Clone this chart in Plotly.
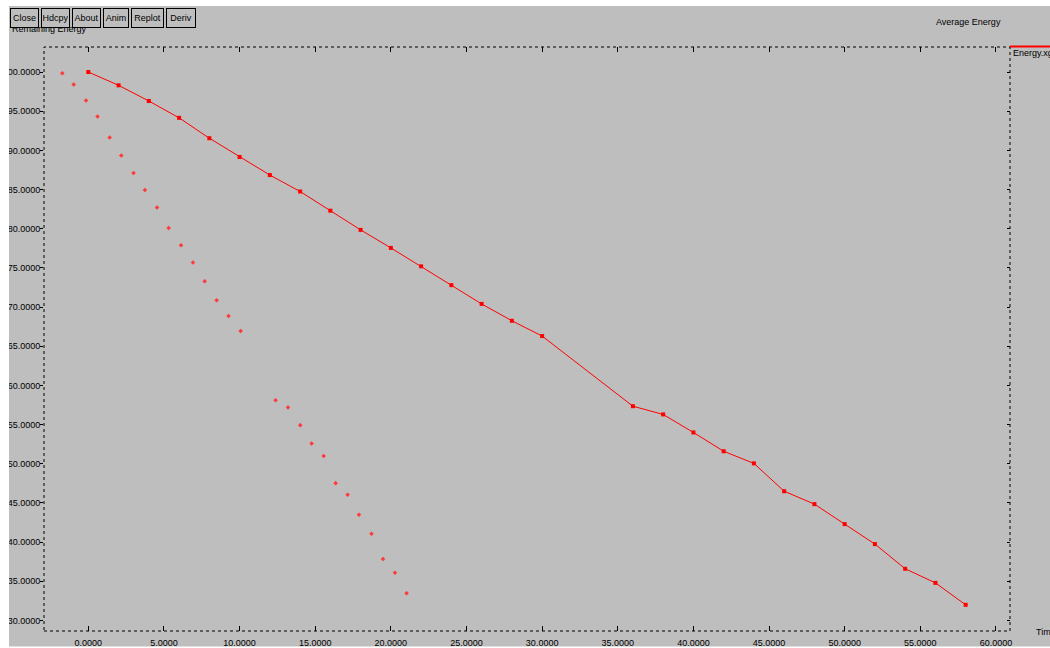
import plotly.graph_objects as go

# ---- data ----
line_time = [0, 2, 4, 6, 8, 10, 12, 14, 16, 18, 20, 22, 24, 26, 28, 30,
             36, 38, 40, 42, 44, 46, 48, 50, 52, 54, 56, 58]
line_energy = [100.0, 98.3, 96.3, 94.15, 91.55, 89.15, 86.85, 84.75, 82.3, 79.85,
               77.55, 75.2, 72.8, 70.4, 68.25, 66.3, 57.35, 56.3, 54.0, 51.6,
               50.05, 46.5, 44.85, 42.3, 39.75, 36.6, 34.8, 32.0]

dot_time = [-1.72, -0.97, -0.15, 0.61, 1.41, 2.18, 2.99, 3.74, 4.54, 5.31,
            6.13, 6.92, 7.69, 8.48, 9.27, 10.07, 12.38, 13.2, 14.01, 14.76,
            15.56, 16.35, 17.14, 17.89, 18.72, 19.48, 20.27, 21.04]
dot_energy = [99.85, 98.41, 96.37, 94.33, 91.65, 89.35, 87.1, 84.93, 82.7, 80.1,
              77.88, 75.7, 73.3, 70.86, 68.86, 66.95, 58.12, 57.18, 54.93, 52.6,
              51.0, 47.53, 46.04, 43.49, 41.07, 37.84, 36.1, 33.47]

x_ticks = [0, 5, 10, 15, 20, 25, 30, 35, 40, 45, 50, 55, 60]
y_ticks = [30, 35, 40, 45, 50, 55, 60, 65, 70, 75, 80, 85, 90, 95, 100]

buttons = ["Close", "Hdcpy", "About", "Anim", "Replot", "Deriv"]
title_text = "Average Energy"
y_label = "Remaining Energy"
x_label = "Time"
legend_name = "Energy.xg"

# ---- layout geometry (pixels) ----
W, H = 1050, 648
L, R, T, B = 44, 1010, 47, 631
BG = "#bebebe"
FONT = "Liberation Sans, Arial"
FS = 9


def px(x):
    return (x - L) / (R - L)


def py(y):
    return (B - y) / (B - T)


fig = go.Figure()
fig.add_trace(go.Scatter(x=line_time, y=line_energy, mode="lines+markers",
                         line=dict(color="#ff0000", width=1),
                         marker=dict(symbol="square", size=4, color="#ff0000"),
                         showlegend=False, hoverinfo="skip"))
fig.add_trace(go.Scatter(x=dot_time, y=dot_energy, mode="markers",
                         marker=dict(symbol="diamond", size=3.5, color="#ff3a3a"),
                         showlegend=False, hoverinfo="skip"))
fig.add_trace(go.Scatter(x=[None], y=[None], yaxis="y2", showlegend=False,
                         hoverinfo="skip"))

xr = [-2.93, 60.93]
yr = [28.66, 103.19]

fig.update_layout(
    width=W, height=H, autosize=False,
    margin=dict(l=L, r=W - R, t=T, b=H - B, pad=0, autoexpand=False),
    paper_bgcolor=BG, plot_bgcolor=BG,
    font=dict(family=FONT, size=FS, color="#000000"),
    xaxis=dict(range=xr, tickvals=x_ticks, tickformat=".4f", ticks="inside",
               ticklen=5, tickcolor="#000000", tickwidth=1, mirror="ticks",
               showgrid=False, zeroline=False, showline=False,
               ticklabelstandoff=5,
               tickfont=dict(family=FONT, size=FS, color="#000000")),
    yaxis=dict(range=yr, tickvals=y_ticks, tickformat=".4f", ticks="outside",
               ticklen=3, tickcolor="#000000", tickwidth=1,
               showgrid=False, zeroline=False, showline=False,
               ticklabelstandoff=-2,
               tickfont=dict(family=FONT, size=FS, color="#000000")),
    yaxis2=dict(range=yr, tickvals=y_ticks, overlaying="y", side="right",
                ticks="inside", ticklen=3, tickcolor="#000000",
                showticklabels=False, showgrid=False, zeroline=False,
                showline=False),
)

shapes = [
    # dotted frame
    dict(type="rect", xref="paper", yref="paper", x0=0, x1=1, y0=0, y1=1,
         line=dict(color="#000000", width=1, dash="dot"), layer="above"),
    # legend line
    dict(type="line", xref="paper", yref="paper", x0=px(1010), x1=px(1052),
         y0=py(46.5), y1=py(46.5), line=dict(color="#ff0000", width=2),
         layer="above"),
    # white window edges
    dict(type="rect", xref="paper", yref="paper", x0=px(0), x1=px(9),
         y0=py(H), y1=py(0), fillcolor="#ffffff", line=dict(width=0),
         layer="above"),
    dict(type="rect", xref="paper", yref="paper", x0=px(0), x1=px(W),
         y0=py(6), y1=py(0), fillcolor="#ffffff", line=dict(width=0),
         layer="above"),
    dict(type="rect", xref="paper", yref="paper", x0=px(0), x1=px(W),
         y0=py(H), y1=py(646.5), fillcolor="#ffffff", line=dict(width=0),
         layer="above"),
]
fig.update_layout(shapes=shapes)

ann = []
ann.append(dict(text=y_label, xref="paper", yref="paper", x=px(10), y=py(29),
                xanchor="left", yanchor="middle", showarrow=False,
                font=dict(family=FONT, size=FS, color="#000000")))
ann.append(dict(text=title_text, xref="paper", yref="paper", x=px(968.5), y=py(22),
                xanchor="center", yanchor="middle", showarrow=False,
                font=dict(family=FONT, size=FS, color="#000000")))
ann.append(dict(text=legend_name, xref="paper", yref="paper", x=px(1011), y=py(53),
                xanchor="left", yanchor="middle", showarrow=False,
                font=dict(family=FONT, size=FS, color="#000000")))
ann.append(dict(text=x_label, xref="paper", yref="paper", x=px(1034), y=py(632),
                xanchor="left", yanchor="middle", showarrow=False,
                font=dict(family=FONT, size=FS, color="#000000")))

btn_edges = [(10, 39), (41, 70), (72, 101), (103, 129), (131, 164), (166, 196)]
for name, (a, b) in zip(buttons, btn_edges):
    ann.append(dict(text=name, xref="paper", yref="paper", x=px((a + b) / 2),
                    y=py(18), xanchor="center", yanchor="middle", showarrow=False,
                    width=(b - a) - 4, height=20 - 4, borderpad=1,
                    bgcolor=BG, bordercolor="#000000", borderwidth=1,
                    font=dict(family=FONT, size=FS, color="#000000")))
fig.update_layout(annotations=ann)

fig.write_html("out.html", config={"displayModeBar": False},
               post_script="document.body.style.margin='0';"
                           "document.body.style.overflow='hidden';")
